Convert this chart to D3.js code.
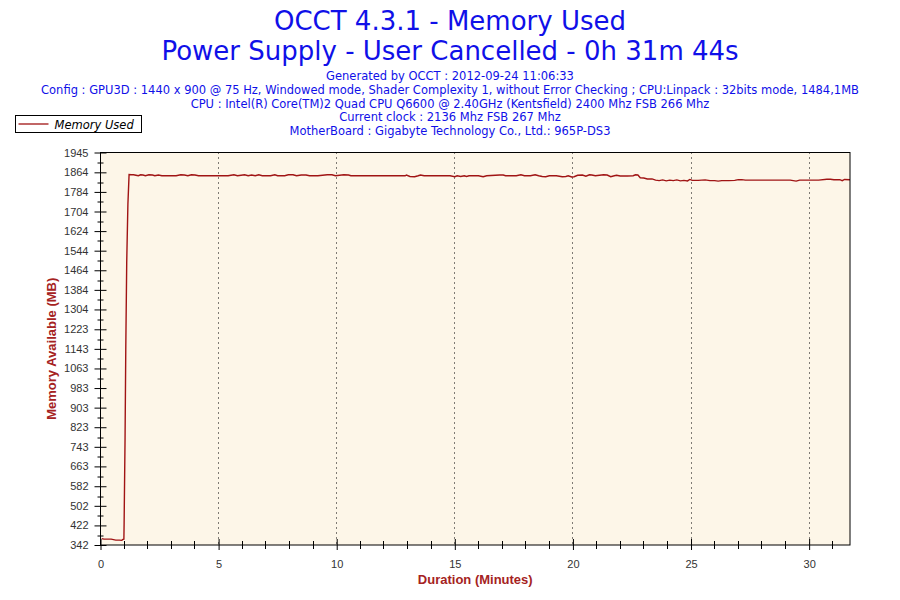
<!DOCTYPE html>
<html>
<head>
<meta charset="utf-8">
<script src="https://cdn.jsdelivr.net/npm/d3@7"></script>
<style>
  body { margin: 0; background: #fff; }
  svg { display: block; }
  .title { font-family: "DejaVu Sans", sans-serif; fill: #1010e8; }
  .info { font-family: "DejaVu Sans", sans-serif; font-size: 11.5px; fill: #1010e8; }
  .axis text { font-family: "Liberation Sans", Arial, sans-serif; font-size: 11px; fill: #333; }
  .axis path, .axis line { stroke: #000; }
  .axis-title { font-family: "Liberation Sans", Arial, sans-serif; font-size: 13px; font-weight: bold; fill: #a52222; }
</style>
</head>
<body>
<svg id="chart" width="900" height="600"></svg>
<script>

var titleLines = ['OCCT 4.3.1 - Memory Used', 'Power Supply - User Cancelled - 0h 31m 44s'];
var infoLines = [
    'Generated by OCCT : 2012-09-24 11:06:33',
    'Config : GPU3D : 1440 x 900 @ 75 Hz, Windowed mode, Shader Complexity 1, without Error Checking ; CPU:Linpack : 32bits mode, 1484,1MB',
    'CPU : Intel(R) Core(TM)2 Quad CPU Q6600 @ 2.40GHz (Kentsfield) 2400 Mhz FSB 266 Mhz',
    'Current clock : 2136 Mhz FSB 267 Mhz',
    'MotherBoard : Gigabyte Technology Co., Ltd.: 965P-DS3'
];
var seriesName = 'Memory Used';
var xTitle = 'Duration (Minutes)';
var yTitle = 'Memory Available (MB)';

var yTicks = [342, 422, 502, 582, 663, 743, 823, 903, 983, 1063, 1143, 1223, 1304, 1384, 1464, 1544, 1624, 1704, 1784, 1864, 1945];
var xTicks = [0, 5, 10, 15, 20, 25, 30];
var xMinor = [0, 1, 2, 3, 4, 5, 6, 7, 8, 9, 10, 11, 12, 13, 14, 15, 16, 17, 18, 19, 20, 21, 22, 23, 24, 25, 26, 27, 28, 29, 30, 31];
var duration = 31.73;

// minutes since start
var timeMin = [
    0.05, 0.15, 0.3, 0.45, 0.55, 0.65, 0.8, 0.9, 0.95, 0.99,
    1.0, 1.04, 1.07, 1.11, 1.16, 1.21, 1.3, 1.4, 1.5, 1.6,
    1.7, 1.8, 1.9, 2.05, 2.2, 2.3, 2.45, 2.6, 2.8, 3.0,
    3.2, 3.4, 3.55, 3.7, 3.85, 4.0, 4.15, 4.5, 5.0, 5.4,
    5.65, 5.8, 6.1, 6.25, 6.4, 6.55, 6.7, 6.85, 7.2, 7.38,
    7.5, 7.8, 7.95, 8.15, 8.3, 8.5, 8.7, 8.85, 9.2, 9.6,
    9.8, 9.95, 10.3, 10.5, 10.6, 11.0, 11.5, 12.0, 12.5, 12.9,
    12.95, 13.1, 13.3, 13.45, 13.55, 13.7, 14.2, 14.8, 15.0, 15.1,
    15.25, 15.4, 15.5, 15.6, 16.0, 16.2, 16.35, 16.9, 17.05, 17.15,
    17.6, 17.8, 17.95, 18.2, 18.4, 18.55, 18.7, 18.85, 19.0, 19.3,
    19.55, 19.7, 19.8, 19.95, 20.05, 20.2, 20.4, 20.55, 20.7, 20.8,
    20.95, 21.3, 21.45, 21.6, 21.75, 21.85, 22.0, 22.3, 22.55, 22.65,
    22.75, 22.85, 23.0, 23.15, 23.35, 23.5, 23.65, 23.8, 23.95, 24.1,
    24.25, 24.4, 24.55, 24.7, 24.85, 24.95, 25.05, 25.3, 25.6, 25.8,
    26.0, 26.15, 26.3, 26.6, 26.85, 27.0, 27.15, 27.3, 27.6, 28.0,
    28.4, 28.8, 29.2, 29.45, 29.6, 30.0, 30.4, 30.75, 30.9, 31.05,
    31.3, 31.4, 31.5, 31.73
];

// MB
var memUsed = [
    368, 366, 366, 366, 364, 362, 362, 361, 365, 366,
    432, 781, 1141, 1497, 1734, 1855, 1854, 1854, 1852, 1850,
    1854, 1853, 1850, 1854, 1853, 1850, 1853, 1850, 1850, 1850,
    1850, 1854, 1853, 1850, 1854, 1853, 1850, 1850, 1850, 1850,
    1854, 1850, 1854, 1850, 1853, 1850, 1854, 1850, 1850, 1854,
    1850, 1850, 1854, 1854, 1850, 1853, 1853, 1850, 1850, 1854,
    1854, 1850, 1854, 1853, 1850, 1850, 1850, 1850, 1850, 1850,
    1853, 1847, 1846, 1850, 1853, 1850, 1850, 1850, 1846, 1850,
    1847, 1850, 1847, 1850, 1850, 1846, 1850, 1853, 1853, 1850,
    1850, 1854, 1850, 1850, 1854, 1850, 1847, 1846, 1850, 1850,
    1846, 1847, 1850, 1845, 1846, 1852, 1853, 1848, 1854, 1853,
    1850, 1854, 1853, 1846, 1850, 1852, 1849, 1849, 1850, 1854,
    1853, 1842, 1841, 1837, 1837, 1832, 1830, 1833, 1829, 1832,
    1830, 1833, 1829, 1831, 1829, 1835, 1831, 1831, 1833, 1830,
    1830, 1828, 1830, 1830, 1831, 1834, 1834, 1832, 1832, 1832,
    1832, 1832, 1832, 1828, 1832, 1832, 1832, 1836, 1836, 1834,
    1834, 1830, 1835, 1834
];

var svg = d3.select('#chart');
var margin = { left: 100.5, right: 50, top: 152.5, bottom: 55 };
var width = 900 - margin.left - margin.right;
var height = 600 - margin.top - margin.bottom;

var xScale = d3.scaleLinear().domain([0, duration]).range([0, width]);
var yScale = d3.scaleLinear().domain([yTicks[0], yTicks[yTicks.length - 1]]).range([height, 0]);

// titles
svg.selectAll('text.title')
    .data(titleLines)
    .enter().append('text')
    .attr('class', 'title')
    .attr('x', 450)
    .attr('y', function (d, i) { return 30 + i * 30; })
    .attr('text-anchor', 'middle')
    .style('font-size', '26px')
    .text(function (d) { return d; });

svg.selectAll('text.info')
    .data(infoLines)
    .enter().append('text')
    .attr('class', 'info')
    .attr('x', 450)
    .attr('y', function (d, i) { return 80 + i * 13.8; })
    .attr('text-anchor', 'middle')
    .text(function (d) { return d; });

// legend
var legend = svg.append('g').attr('transform', 'translate(15.5,115.5)');
legend.append('rect')
    .attr('width', 126).attr('height', 17)
    .attr('fill', '#fff').attr('stroke', '#000');
legend.append('line')
    .attr('x1', 3).attr('x2', 33).attr('y1', 8.5).attr('y2', 8.5)
    .attr('stroke', '#a01414').attr('stroke-width', 1.3);
legend.append('text')
    .attr('x', 39).attr('y', 13)
    .style('font-family', '"DejaVu Sans", sans-serif')
    .style('font-size', '11.5px')
    .style('font-style', 'italic')
    .text(seriesName);

var plot = svg.append('g').attr('transform', 'translate(' + margin.left + ',' + margin.top + ')');

plot.append('rect')
    .attr('width', width).attr('height', height)
    .attr('fill', '#fdf6e8');

// dotted vertical grid
plot.selectAll('line.grid')
    .data(xTicks.filter(function (d) { return d > 0; }))
    .enter().append('line')
    .attr('class', 'grid')
    .attr('x1', function (d) { return Math.round(xScale(d)); })
    .attr('x2', function (d) { return Math.round(xScale(d)); })
    .attr('y1', 0).attr('y2', height)
    .attr('stroke', '#000')
    .attr('stroke-dasharray', '1,4');

// series
var line = d3.line()
    .x(function (d) { return xScale(d[0]); })
    .y(function (d) { return yScale(d[1]); });

plot.append('path')
    .datum(d3.zip(timeMin, memUsed))
    .attr('d', line)
    .attr('fill', 'none')
    .attr('stroke', '#a01414')
    .attr('stroke-width', 1.4);

// border
plot.append('rect')
    .attr('width', width).attr('height', height)
    .attr('fill', 'none').attr('stroke', '#000');

// y axis
var yAxis = plot.append('g').attr('class', 'axis')
    .call(d3.axisLeft(yScale).tickValues(yTicks).tickFormat(d3.format('d')).tickSize(6).tickPadding(6));
yAxis.select('.domain').remove();
yAxis.selectAll('.tick line').attr('x1', 6).attr('x2', -6);

var yMinor = d3.pairs(yTicks).map(function (p) { return (p[0] + p[1]) / 2; });
plot.selectAll('line.yminor')
    .data(yMinor)
    .enter().append('line')
    .attr('class', 'yminor')
    .attr('x1', -3).attr('x2', 3)
    .attr('y1', function (d) { return Math.round(yScale(d)) + 0.5; })
    .attr('y2', function (d) { return Math.round(yScale(d)) + 0.5; })
    .attr('stroke', '#000');

// x axis
var xAxis = plot.append('g').attr('class', 'axis')
    .attr('transform', 'translate(0,' + height + ')')
    .call(d3.axisBottom(xScale).tickValues(xTicks).tickSize(5).tickPadding(10));
xAxis.select('.domain').remove();
xAxis.selectAll('.tick line').attr('y1', -6).attr('y2', 5);

plot.selectAll('line.xminor')
    .data(xMinor.filter(function (d) { return d % 5 !== 0; }))
    .enter().append('line')
    .attr('class', 'xminor')
    .attr('x1', function (d) { return Math.round(xScale(d)); })
    .attr('x2', function (d) { return Math.round(xScale(d)); })
    .attr('y1', height - 4).attr('y2', height + 4)
    .attr('stroke', '#000');

// axis titles
svg.append('text')
    .attr('class', 'axis-title')
    .attr('x', margin.left + width / 2)
    .attr('y', 584)
    .attr('text-anchor', 'middle')
    .text(xTitle);

svg.append('text')
    .attr('class', 'axis-title')
    .attr('transform', 'translate(56,' + (margin.top + height / 2) + ') rotate(-90)')
    .attr('text-anchor', 'middle')
    .text(yTitle);

</script>
</body>
</html>
